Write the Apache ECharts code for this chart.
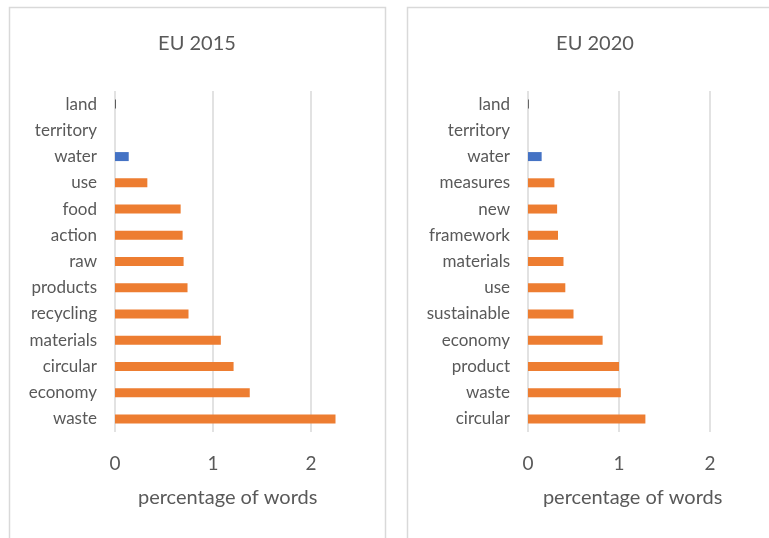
<!DOCTYPE html>
<html>
<head>
<meta charset="utf-8">
<style>
  html, body { margin: 0; padding: 0; background: #ffffff; }
  #chart { width: 769px; height: 538px; }
</style>
<script src="https://cdn.jsdelivr.net/npm/echarts@6/dist/echarts.min.js"></script>
</head>
<body>
<div id="chart"></div>
<script>
// Word shares (percentage of words), listed bottom to top
const words2015 = ['waste', 'economy', 'circular', 'materials', 'recycling', 'products', 'raw', 'action', 'food', 'use', 'water', 'territory', 'land'];
const share2015 = [2.25, 1.375, 1.21, 1.08, 0.75, 0.74, 0.70, 0.69, 0.67, 0.33, 0.14, 0, 0.01];

const words2020 = ['circular', 'waste', 'product', 'economy', 'sustainable', 'use', 'materials', 'framework', 'new', 'measures', 'water', 'territory', 'land'];
const share2020 = [1.29, 1.02, 1.00, 0.82, 0.50, 0.41, 0.39, 0.33, 0.32, 0.29, 0.15, 0, 0.01];

const xTicks = [0, 1, 2];
const panelTitles = ['EU 2015', 'EU 2020'];
const axisTitle = 'percentage of words';

const FONT = 'Lato, "Liberation Sans", sans-serif';
const TEXT = '#595959';
const GRID_LINE = '#d9d9d9';
const ORANGE = '#ED7D31';
const BLUE = '#4472C4';
const DARK = '#5a5a5a';
const AXIS_MAX = 2.3;

function barColor(word) {
  if (word === 'water') return BLUE;
  if (word === 'land') return DARK;
  return ORANGE;
}

function barData(words, values) {
  return values.map((v, i) => ({ value: v, itemStyle: { color: barColor(words[i]) } }));
}

function valueAxis(gridIndex) {
  return {
    type: 'value',
    gridIndex: gridIndex,
    min: 0,
    max: AXIS_MAX,
    interval: 1,
    name: axisTitle,
    nameLocation: 'middle',
    nameGap: 56,
    nameTextStyle: { fontFamily: FONT, fontSize: 20, color: TEXT },
    axisLine: { show: false },
    axisTick: { show: false },
    axisLabel: {
      fontFamily: FONT, fontSize: 19, color: TEXT, margin: 22,
      showMaxLabel: false,
      formatter: v => (xTicks.indexOf(v) >= 0 ? String(v) : '')
    },
    splitLine: {
      show: true,
      lineStyle: { color: [GRID_LINE, GRID_LINE, GRID_LINE, 'rgba(0,0,0,0)'], width: 1.5 }
    }
  };
}

function categoryAxis(gridIndex, words) {
  return {
    type: 'category',
    gridIndex: gridIndex,
    data: words,
    axisLine: { show: false },
    axisTick: { show: false },
    axisLabel: { fontFamily: FONT, fontSize: 17, color: TEXT, margin: 18 },
    splitLine: { show: false }
  };
}

const chart = echarts.init(document.getElementById('chart'), null, { renderer: 'canvas' });

chart.setOption({
  animation: false,
  backgroundColor: '#ffffff',
  grid: [
    { left: 115, top: 91, width: 98 * AXIS_MAX, height: 341 },
    { left: 528, top: 91, width: 91 * AXIS_MAX, height: 341 }
  ],
  xAxis: [valueAxis(0), valueAxis(1)],
  yAxis: [categoryAxis(0, words2015), categoryAxis(1, words2020)],
  series: [
    { type: 'bar', xAxisIndex: 0, yAxisIndex: 0, barWidth: 9, data: barData(words2015, share2015) },
    { type: 'bar', xAxisIndex: 1, yAxisIndex: 1, barWidth: 9, data: barData(words2020, share2020) }
  ],
  graphic: [
    { type: 'rect', shape: { x: 9.5, y: 7.5, width: 376, height: 560 },
      style: { fill: 'none', stroke: GRID_LINE, lineWidth: 1.5 }, silent: true },
    { type: 'rect', shape: { x: 407.5, y: 7.5, width: 376, height: 560 },
      style: { fill: 'none', stroke: GRID_LINE, lineWidth: 1.5 }, silent: true },
    { type: 'text', x: 197, y: 44,
      style: { text: panelTitles[0], font: '20px ' + FONT, fill: TEXT, textAlign: 'center', textVerticalAlign: 'middle' } },
    { type: 'text', x: 595, y: 44,
      style: { text: panelTitles[1], font: '20px ' + FONT, fill: TEXT, textAlign: 'center', textVerticalAlign: 'middle' } }
  ]
});
</script>
</body>
</html>
